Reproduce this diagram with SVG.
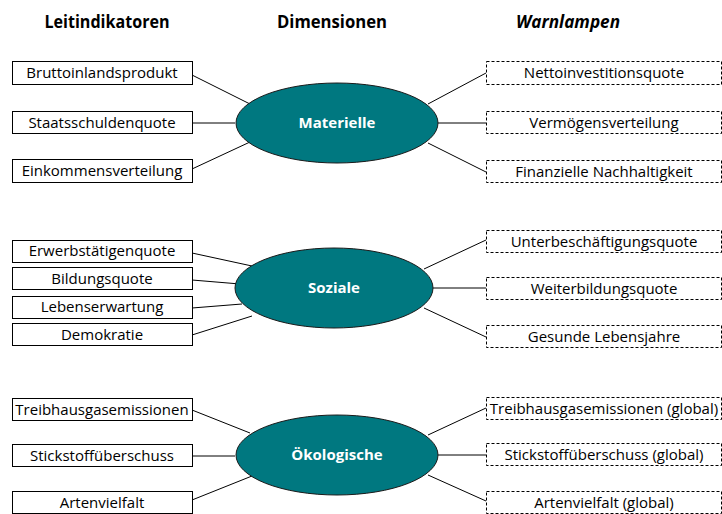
<svg xmlns="http://www.w3.org/2000/svg" width="722" height="514" viewBox="0 0 722 514">
<style>
.hdr{font-family:"Open Sans","Liberation Sans",sans-serif;font-weight:bold;font-size:18px;fill:#000;text-anchor:middle}
.box{fill:#fff;stroke:#000;stroke-width:1}
.wbox{fill:#fff;stroke:#000;stroke-width:1;stroke-dasharray:3,2}
.lbl{font-family:"Open Sans","Liberation Sans",sans-serif;font-size:15px;fill:#000;text-anchor:middle}
.ell{fill:#007880;stroke:#1a1a1a;stroke-width:1}
.etxt{font-family:"Open Sans","Liberation Sans",sans-serif;font-weight:bold;font-size:15px;fill:#fff;text-anchor:middle}
.conn line{stroke:#000;stroke-width:1}
</style>
<rect width="722" height="514" fill="#fff"/>
<g id="headers">
<text class="hdr" x="107" y="28" textLength="125" lengthAdjust="spacingAndGlyphs">Leitindikatoren</text>
<text class="hdr" x="332" y="28" textLength="110" lengthAdjust="spacingAndGlyphs">Dimensionen</text>
<text class="hdr" x="568" y="28" textLength="104" lengthAdjust="spacingAndGlyphs" font-style="italic">Warnlampen</text>
</g>
<g class="conn" id="connectors">
<line x1="192" y1="75" x2="250" y2="104"/>
<line x1="192" y1="123" x2="235" y2="123"/>
<line x1="192" y1="169" x2="250" y2="142"/>
<line x1="428" y1="104" x2="486" y2="73"/>
<line x1="438" y1="123" x2="486" y2="123"/>
<line x1="428" y1="143" x2="486" y2="172"/>
<line x1="192" y1="253" x2="252" y2="266"/>
<line x1="192" y1="280" x2="240" y2="284"/>
<line x1="192" y1="308" x2="242" y2="304"/>
<line x1="192" y1="335" x2="252" y2="316"/>
<line x1="424" y1="269" x2="486" y2="240"/>
<line x1="433" y1="288" x2="486" y2="288"/>
<line x1="424" y1="308" x2="486" y2="337"/>
<line x1="192" y1="410" x2="250" y2="433"/>
<line x1="192" y1="456" x2="235" y2="456"/>
<line x1="192" y1="500" x2="252" y2="476"/>
<line x1="428" y1="435" x2="486" y2="408"/>
<line x1="438" y1="455" x2="486" y2="455"/>
<line x1="428" y1="475" x2="486" y2="501"/>
</g>
<g id="n-materielle"><ellipse class="ell" cx="337" cy="123" rx="101" ry="40"/><text class="etxt" x="337" y="128">Materielle</text></g>
<g id="n-soziale"><ellipse class="ell" cx="334" cy="288" rx="99" ry="40"/><text class="etxt" x="334" y="293">Soziale</text></g>
<g id="n-oekologische"><ellipse class="ell" cx="337" cy="455" rx="101" ry="40"/><text class="etxt" x="337" y="460">Ökologische</text></g>
<g id="l-bip"><rect class="box" x="12.5" y="61.5" width="180" height="23"/><text class="lbl" x="102" y="78">Bruttoinlandsprodukt</text></g>
<g id="l-staat"><rect class="box" x="12.5" y="111.5" width="180" height="22"/><text class="lbl" x="102" y="128">Staatsschuldenquote</text></g>
<g id="l-eink"><rect class="box" x="12.5" y="159.5" width="180" height="23"/><text class="lbl" x="102" y="176">Einkommensverteilung</text></g>
<g id="l-erwerb"><rect class="box" x="12.5" y="240.5" width="180" height="22"/><text class="lbl" x="102" y="256">Erwerbstätigenquote</text></g>
<g id="l-bildung"><rect class="box" x="12.5" y="267.5" width="180" height="22"/><text class="lbl" x="102" y="284">Bildungsquote</text></g>
<g id="l-leben"><rect class="box" x="12.5" y="296.5" width="180" height="22"/><text class="lbl" x="102" y="312">Lebenserwartung</text></g>
<g id="l-demo"><rect class="box" x="12.5" y="323.5" width="180" height="22"/><text class="lbl" x="102" y="340">Demokratie</text></g>
<g id="l-treib"><rect class="box" x="12.5" y="398.5" width="180" height="22"/><text class="lbl" x="102" y="415">Treibhausgasemissionen</text></g>
<g id="l-stick"><rect class="box" x="12.5" y="444.5" width="180" height="22"/><text class="lbl" x="102" y="461">Stickstoffüberschuss</text></g>
<g id="l-arten"><rect class="box" x="12.5" y="491.5" width="180" height="22"/><text class="lbl" x="102" y="508">Artenvielfalt</text></g>
<g id="w-netto"><rect class="wbox" x="486.5" y="61.5" width="235" height="23"/><text class="lbl" x="604" y="78">Nettoinvestitionsquote</text></g>
<g id="w-verm"><rect class="wbox" x="486.5" y="111.5" width="235" height="22"/><text class="lbl" x="604" y="128">Vermögensverteilung</text></g>
<g id="w-fin"><rect class="wbox" x="486.5" y="160.5" width="235" height="22"/><text class="lbl" x="604" y="177">Finanzielle Nachhaltigkeit</text></g>
<g id="w-unter"><rect class="wbox" x="486.5" y="230.5" width="235" height="22"/><text class="lbl" x="604" y="247">Unterbeschäftigungsquote</text></g>
<g id="w-weiter"><rect class="wbox" x="486.5" y="277.5" width="235" height="22"/><text class="lbl" x="604" y="294">Weiterbildungsquote</text></g>
<g id="w-gesund"><rect class="wbox" x="486.5" y="325.5" width="235" height="22"/><text class="lbl" x="604" y="342">Gesunde Lebensjahre</text></g>
<g id="w-treib"><rect class="wbox" x="486.5" y="397.5" width="235" height="22"/><text class="lbl" x="604" y="414">Treibhausgasemissionen (global)</text></g>
<g id="w-stick"><rect class="wbox" x="486.5" y="443.5" width="235" height="22"/><text class="lbl" x="604" y="460">Stickstoffüberschuss (global)</text></g>
<g id="w-arten"><rect class="wbox" x="486.5" y="491.5" width="235" height="22"/><text class="lbl" x="604" y="508">Artenvielfalt (global)</text></g>
</svg>
